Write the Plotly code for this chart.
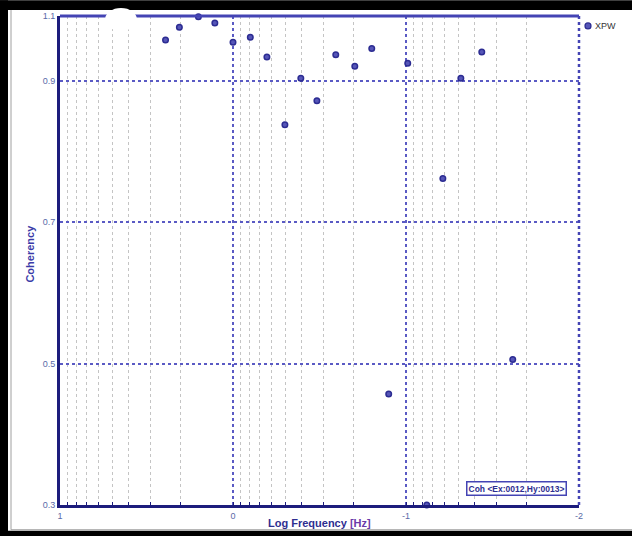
import numpy as np
import plotly.graph_objects as go

# ---- data ----
log_freq = [0.39, 0.31, 0.20, 0.105, 0.0, -0.10, -0.196, -0.30, -0.392, -0.485,
            -0.594, -0.704, -0.802, -0.90, -1.01, -1.12, -1.213, -1.317, -1.438, -1.617]
coherency = [0.958, 0.976, 0.991, 0.982, 0.955, 0.962, 0.934, 0.838, 0.904, 0.872,
             0.937, 0.921, 0.946, 0.457, 0.925, 0.300, 0.762, 0.904, 0.941, 0.506]
series_name = "XPW"
x_tick_vals_log = [1, 0, -1, -2]
x_tick_labels = ["1", "0", "-1", "-2"]
y_tick_vals = [0.3, 0.5, 0.7, 0.9, 0.992]
y_tick_labels = ["0.3", "0.5", "0.7", "0.9", "1.1"]
y_range = [0.3, 0.992]
box_label = "Coh &lt;Ex:0012,Hy:0013&gt;"

freq = [10 ** v for v in log_freq]
x_tick_vals = [10 ** v for v in x_tick_vals_log]

W, H = 632, 536
L, R, T, B = 60, 53, 11, 31
pw, ph = W - L - R, H - T - B
def px(x):  # pixel -> paper x
    return (x - L) / pw
def py(y):  # pixel -> paper y
    return (H - B - y) / ph

navy = "#1c1c7c"
blue = "#4444b4"
tickc = "#5a6aa8"
font_fam = "Arial, Liberation Sans, sans-serif"

fig = go.Figure()
fig.add_trace(go.Scatter(
    x=freq, y=coherency, mode="markers", name=series_name, showlegend=False,
    cliponaxis=False,
    marker=dict(size=5.5, color="#5656b8", line=dict(width=1.5, color="#2c2c92")),
))

frame = dict(xref="paper", yref="paper", type="rect", fillcolor="black", line=dict(width=0), layer="below")
shapes = [
    # black frame around the page (top, left, bottom)
    dict(frame, x0=px(0), x1=px(W + 10), y0=py(5), y1=py(-5)),
    dict(frame, x0=px(-5), x1=px(8), y0=py(H + 5), y1=py(-5)),
    dict(frame, x0=px(0), x1=px(W + 10), y0=py(H + 5), y1=py(531)),
    dict(type="line", xref="paper", yref="paper", x0=px(11), x1=px(11), y0=py(530), y1=py(5),
         line=dict(color="#a0a0a0", width=1), layer="below"),
    dict(type="line", xref="paper", yref="paper", x0=px(11), x1=px(W + 10), y0=py(530), y1=py(530),
         line=dict(color="#a0a0a0", width=1), layer="below"),
    # top border
    dict(type="line", xref="paper", yref="paper", x0=0, x1=1, y0=1, y1=1,
         line=dict(color=blue, width=3)),
    # right border (dotted)
    dict(type="line", xref="paper", yref="paper", x0=1, x1=1, y0=0, y1=1,
         line=dict(color=blue, width=2.5, dash="dot")),
    # white blob at top
    dict(type="circle", xref="paper", yref="paper", x0=px(105), x1=px(137), y0=py(26), y1=py(3),
         fillcolor="white", line=dict(width=0)),
    # legend marker
    dict(type="circle", xref="paper", yref="paper", x0=px(585), x1=px(591), y0=py(24), y1=py(18),
         fillcolor="#5656b8", line=dict(color="#2c2c92", width=1.2)),
]

annotations = [
    dict(text="<b>Log Frequency <span style='color:#6a3aa8'>[Hz]</span></b>", xref="paper", yref="paper",
         x=px(319), y=py(523), showarrow=False, xanchor="center", yanchor="middle",
         font=dict(size=11, color="#2e2e90", family=font_fam)),
    dict(text="<b>Coherency</b>", xref="paper", yref="paper", x=px(30), y=py(251),
         showarrow=False, textangle=-90, xanchor="center", yanchor="middle",
         font=dict(size=11, color="#3a3aa8", family=font_fam)),
    dict(text="XPW", xref="paper", yref="paper", x=px(593), y=py(21), showarrow=False,
         xanchor="left", yanchor="middle", font=dict(size=9, color="#333333", family=font_fam)),
    dict(text="<b>" + box_label + "</b>", xref="paper", yref="paper", x=px(516), y=py(488.5),
         showarrow=False, xanchor="center", yanchor="middle", bgcolor="white",
         bordercolor=blue, borderwidth=1.5, borderpad=1,
         font=dict(size=8.5, color="#2e2e90", family=font_fam)),
]

fig.update_layout(
    width=W, height=H, margin=dict(l=L, r=R, t=T, b=B),
    paper_bgcolor="white", plot_bgcolor="white",
    showlegend=False,
    font=dict(family=font_fam, size=9, color=tickc),
    shapes=shapes, annotations=annotations,
    xaxis=dict(
        type="log", range=[x_tick_vals_log[0], x_tick_vals_log[-1]],
        tickmode="array", tickvals=x_tick_vals, ticktext=x_tick_labels,
        showgrid=True, gridcolor="#5a5ac4", griddash="dot", gridwidth=1.5,
        ticks="inside", ticklen=3, tickcolor=navy,
        minor=dict(showgrid=True, gridcolor="#c4c4c4", griddash="dot", gridwidth=1,
                   ticks="inside", ticklen=3, tickcolor=navy, dtick="D1"),
        showline=True, linecolor=navy, linewidth=3, zeroline=False,
        tickfont=dict(size=9, color=tickc),
    ),
    yaxis=dict(
        range=y_range, tickmode="array", tickvals=y_tick_vals, ticktext=y_tick_labels,
        showgrid=True, gridcolor="#5a5ac4", griddash="dot", gridwidth=1.5,
        showline=True, linecolor=navy, linewidth=3, zeroline=False, ticks="",
        tickfont=dict(size=9, color=tickc),
    ),
)

fig.write_html("out.html")
